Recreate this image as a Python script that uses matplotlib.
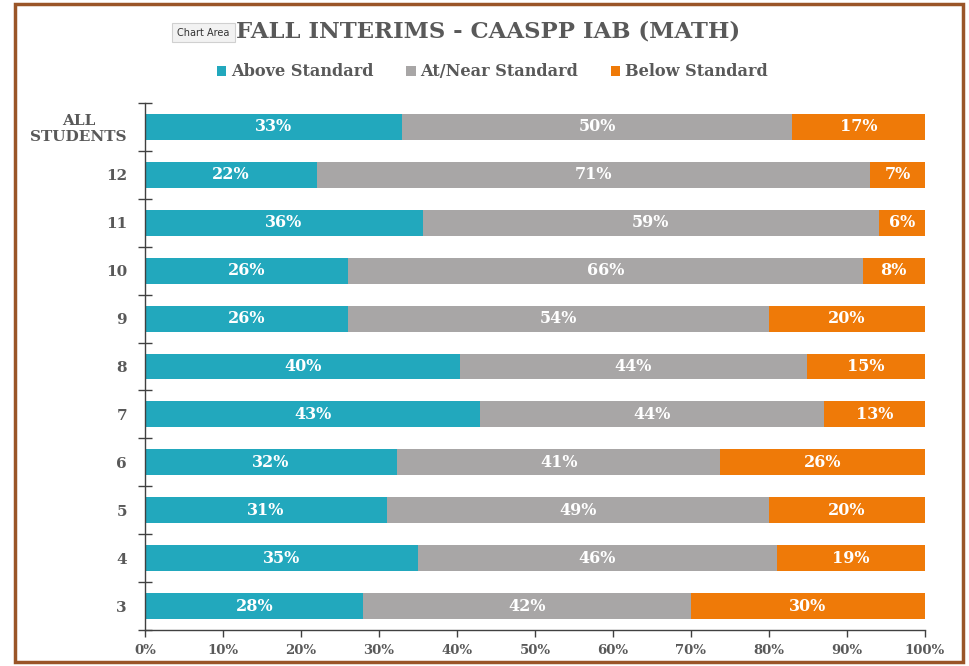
import matplotlib.pyplot as plt
import matplotlib.patches as patches
import numpy as np

# data (top to bottom)
categories = ['ALL\nSTUDENTS', '12', '11', '10', '9', '8', '7', '6', '5', '4', '3']
above = [33, 22, 36, 26, 26, 40, 43, 32, 31, 35, 28]
near = [50, 71, 59, 66, 54, 44, 44, 41, 49, 46, 42]
below = [17, 7, 6, 8, 20, 15, 13, 26, 20, 19, 30]
series_names = ['Above Standard', 'At/Near Standard', 'Below Standard']
colors = ['#22A8BD', '#A8A6A6', '#EF7A08']
xticks = [0, 10, 20, 30, 40, 50, 60, 70, 80, 90, 100]

text_grey = '#595959'
font = 'DejaVu Serif'

fig = plt.figure(figsize=(9.69, 6.66), dpi=100)
fig.patch.set_facecolor('white')

# chart-area border
border = patches.Rectangle((15 / 969, 4 / 666), 948 / 969, 658 / 666,
                           transform=fig.transFigure, fill=False,
                           edgecolor='#9A5528', linewidth=2.5)
fig.patches.append(border)

ax = fig.add_axes([145 / 969, 36 / 666, 780 / 969, 527 / 666])

# Excel 100% stacked: normalise each row
raw = np.array([above, near, below], dtype=float)
pct = raw / raw.sum(axis=0) * 100
y = np.arange(len(categories))

left = np.zeros(len(categories))
for i in range(3):
    ax.barh(y, pct[i], left=left, height=0.54, color=colors[i],
            label=series_names[i], zorder=2)
    for j in range(len(categories)):
        ax.text(left[j] + pct[i][j] / 2, y[j], f'{int(raw[i][j])}%',
                ha='center', va='center', color='white', fontsize=11.5,
                fontweight='bold', family=font, zorder=3)
    left += pct[i]

ax.set_xlim(0, 100)
ax.set_ylim(len(categories) - 0.5, -0.5)

# y ticks at the category boundaries, labels in the middle
ax.set_yticks(np.arange(-0.5, len(categories), 1))
ax.set_yticklabels([])
ax.set_yticks(y, minor=True)
ax.set_yticklabels(categories, minor=True, fontsize=11, fontweight='bold',
                   family=font, color=text_grey, linespacing=1.1,
                   multialignment='center')
ax.tick_params(axis='y', which='major', direction='inout', length=10,
               width=1, color='#404040')
ax.tick_params(axis='y', which='minor', length=0, pad=13)

ax.set_xticks(xticks)
ax.set_xticklabels([f'{v}%' for v in xticks], fontsize=9.5, fontweight='bold',
                   family=font, color=text_grey)
ax.tick_params(axis='x', direction='out', length=5, width=1, color='#404040',
               pad=5)

for s in ['top', 'right']:
    ax.spines[s].set_visible(False)
for s in ['left', 'bottom']:
    ax.spines[s].set_color('#404040')
    ax.spines[s].set_linewidth(1)

fig.text(0.504, 0.952, 'FALL INTERIMS - CAASPP IAB (MATH)', ha='center',
         va='center', fontsize=16.4, fontweight='bold', family=font,
         color=text_grey)

leg = fig.legend(loc='center', bbox_to_anchor=(0.508, 0.892), ncol=3,
                 frameon=False, handlelength=0.6, handleheight=0.6,
                 handletextpad=0.3, columnspacing=2.0,
                 prop={'family': font, 'weight': 'bold', 'size': 11.6})
for t in leg.get_texts():
    t.set_color(text_grey)

# "Chart Area" tooltip overlay
fig.text(0.21, 0.951, 'Chart Area', ha='center', va='center', fontsize=7,
         family='DejaVu Sans', color='#333333',
         bbox=dict(boxstyle='square,pad=0.5', facecolor='#F2F2F2',
                   edgecolor='#D0D0D0', linewidth=0.8))

fig.savefig('out.png', dpi=100)
